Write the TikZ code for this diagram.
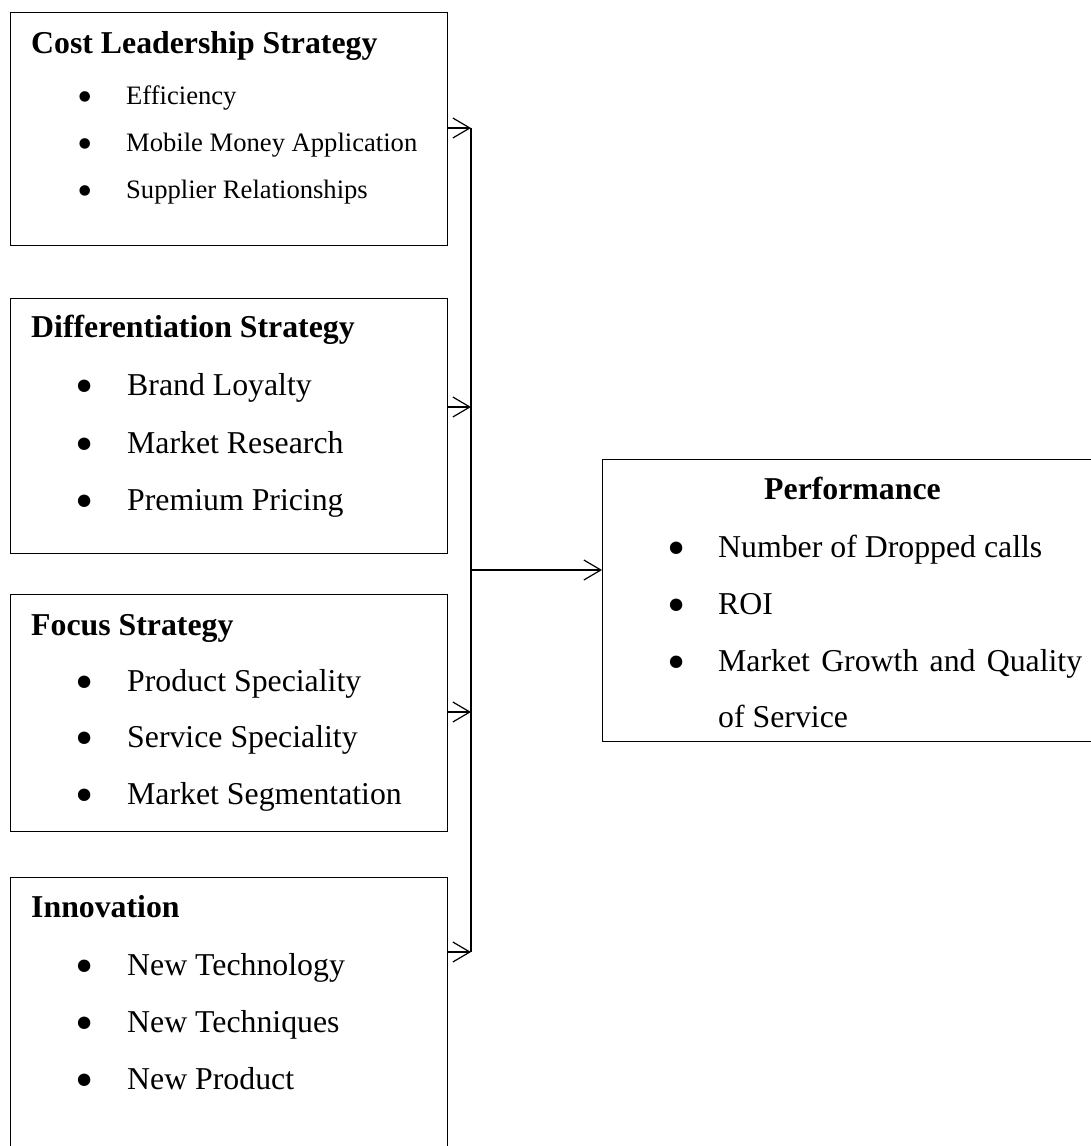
\documentclass[tikz,border=0pt]{standalone}
\usepackage{fontspec}
\setmainfont{Liberation Serif}
\usetikzlibrary{arrows.meta}
\tikzset{
  box/.style={draw=black, line width=1.3pt, rectangle, anchor=north west, inner sep=0pt},
  txt/.style={anchor=base west, inner sep=0pt, font=\fontsize{31.8}{38}\selectfont},
  ttl/.style={txt, font=\fontsize{31.8}{38}\selectfont\bfseries},
  small/.style={anchor=base west, inner sep=0pt, font=\fontsize{26.6}{32}\selectfont},
  dot/.style={anchor=center, inner sep=0pt, yshift=-5pt, font=\fontsize{52}{52}\selectfont},
  sdot/.style={anchor=center, inner sep=0pt, yshift=-4.5pt, font=\fontsize{44}{44}\selectfont},
  arr/.style={line width=1.2pt, -{Straight Barb[length=17pt, width=20pt, line width=1.2pt]}},
  spine/.style={line width=1.3pt}
}
\begin{document}
\begin{tikzpicture}[x=1pt, y=-1pt]
\useasboundingbox (0,0) rectangle (1090,1146);
% boxes
\node[box, minimum width=436.5pt, minimum height=233pt] (b1) at (10,12) {};
\node[box, minimum width=436.5pt, minimum height=255pt] (b2) at (10,298) {};
\node[box, minimum width=436.5pt, minimum height=237pt] (b3) at (10,594) {};
\node[box, minimum width=436.5pt, minimum height=280pt] (b4) at (10,877) {};
\node[box, minimum width=500pt, minimum height=282pt] (perf) at (602,459) {};
% box 1
\node[ttl] (t1) at (31,53) {Cost Leadership Strategy};
\node[sdot] (b1d1) at (85,97) {•};
\node[small] (b1i1) at (126,104) {Efficiency};
\node[sdot] (b1d2) at (85,144) {•};
\node[small] (b1i2) at (126,151) {Mobile Money Application};
\node[sdot] (b1d3) at (85,191) {•};
\node[small] (b1i3) at (126,198) {Supplier Relationships};
% box 2
\node[ttl] (t2) at (31,337) {Differentiation Strategy};
\node[dot] (b2d1) at (85,386.7) {•};
\node[txt] (b2i1) at (127,395) {Brand Loyalty};
\node[dot] (b2d2) at (85,444.7) {•};
\node[txt] (b2i2) at (127,453) {Market Research};
\node[dot] (b2d3) at (85,501.7) {•};
\node[txt] (b2i3) at (127,510) {Premium Pricing};
% box 3
\node[ttl] (t3) at (31,635) {Focus Strategy};
\node[dot] (b3d1) at (85,682.7) {•};
\node[txt] (b3i1) at (127,691) {Product Speciality};
\node[dot] (b3d2) at (85,738.7) {•};
\node[txt] (b3i2) at (127,747) {Service Speciality};
\node[dot] (b3d3) at (85,795.7) {•};
\node[txt] (b3i3) at (127,804) {Market Segmentation};
% box 4
\node[ttl] (t4) at (31,917) {Innovation};
\node[dot] (b4d1) at (85,966.7) {•};
\node[txt] (b4i1) at (127,975) {New Technology};
\node[dot] (b4d2) at (85,1023.7) {•};
\node[txt] (b4i2) at (127,1032) {New Techniques};
\node[dot] (b4d3) at (85,1080.7) {•};
\node[txt] (b4i3) at (127,1089) {New Product};
% performance
\node[ttl] (tp) at (764,499) {Performance};
\node[dot] (pd1) at (677,548.7) {•};
\node[txt] (pi1) at (718,557) {Number of Dropped calls};
\node[dot] (pd2) at (677,605.7) {•};
\node[txt] (pi2) at (718,614) {ROI};
\node[dot] (pd3) at (677,662.7) {•};
\node[txt] (pi3) at (718,671) {\hbox to 364pt{Market\hfill Growth\hfill and\hfill Quality}};
\node[txt] (pi4) at (718,727) {of Service};
% connectors
\coordinate (s1) at (471,128);
\coordinate (s2) at (471,407);
\coordinate (s3) at (471,712);
\coordinate (s4) at (471,952);
\coordinate (j) at (471,570);
\draw[spine] (s1) -- (s4);
\draw[arr] (b1.east |- s1) -- (s1);
\draw[arr] (b2.east |- s2) -- (s2);
\draw[arr] (b3.east |- s3) -- (s3);
\draw[arr] (b4.east |- s4) -- (s4);
\draw[arr] (j) -- (perf.west |- j);
\end{tikzpicture}
\end{document}
